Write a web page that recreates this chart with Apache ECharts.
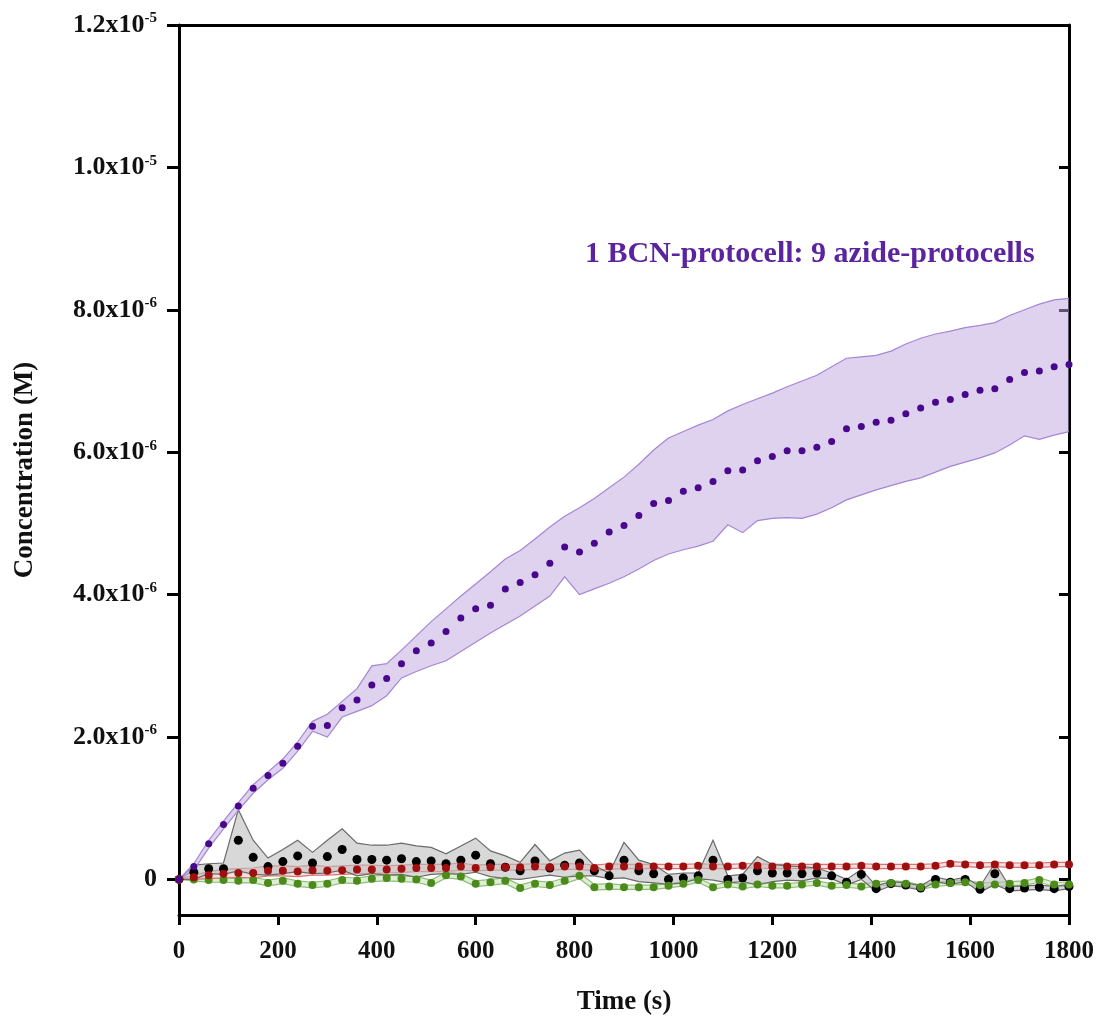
<!DOCTYPE html>
<html>
<head>
<meta charset="utf-8">
<script src="https://cdn.jsdelivr.net/npm/echarts@6/dist/echarts.min.js"></script>
<style>
  html, body { margin: 0; padding: 0; background: #ffffff; }
  #chart { width: 1102px; height: 1019px; }
</style>
</head>
<body>
<div id="chart"></div>
<script>
// Sampling times (s)
const times = [0, 30, 60, 90, 120, 150, 180, 210, 240, 270, 300, 330, 360, 390, 420, 450, 480, 510, 540, 570,
  600, 630, 660, 690, 720, 750, 780, 810, 840, 870, 900, 930, 960, 990, 1020, 1050, 1080, 1110, 1140, 1170,
  1200, 1230, 1260, 1290, 1320, 1350, 1380, 1410, 1440, 1470, 1500, 1530, 1560, 1590, 1620, 1650, 1680, 1710,
  1740, 1770, 1800];

// All concentrations below in units of 1e-6 M
// 1 BCN-protocell : 9 azide-protocells (purple)
const purpleMean = [0, 0.18, 0.50, 0.77, 1.03, 1.28, 1.46, 1.63, 1.87, 2.15,
  2.16, 2.41, 2.52, 2.73, 2.82, 3.03, 3.21, 3.32, 3.48, 3.67,
  3.80, 3.85, 4.08, 4.17, 4.28, 4.44, 4.67, 4.60, 4.72, 4.88,
  4.97, 5.11, 5.28, 5.32, 5.45, 5.50, 5.59, 5.74, 5.75, 5.88,
  5.94, 6.02, 6.02, 6.07, 6.15, 6.33, 6.36, 6.42, 6.45, 6.54,
  6.62, 6.70, 6.74, 6.81, 6.87, 6.89, 7.02, 7.12, 7.14, 7.20, 7.23];
const purpleUpper = [0, 0.22, 0.55, 0.82, 1.08, 1.33, 1.51, 1.69, 1.93, 2.22,
  2.32, 2.50, 2.68, 3.00, 3.03, 3.22, 3.42, 3.62, 3.80, 3.98,
  4.15, 4.32, 4.50, 4.62, 4.78, 4.95, 5.10, 5.22, 5.35, 5.50,
  5.65, 5.83, 6.03, 6.20, 6.29, 6.38, 6.46, 6.58, 6.67, 6.75,
  6.83, 6.92, 7.00, 7.08, 7.20, 7.32, 7.34, 7.36, 7.42, 7.52,
  7.60, 7.66, 7.70, 7.75, 7.78, 7.82, 7.92, 8.00, 8.08, 8.14, 8.16];
const purpleLower = [0, 0.13, 0.44, 0.71, 0.97, 1.21, 1.40, 1.56, 1.80, 2.08,
  2.00, 2.28, 2.36, 2.44, 2.58, 2.83, 2.92, 3.00, 3.07, 3.20,
  3.33, 3.46, 3.58, 3.70, 3.84, 3.98, 4.25, 4.00, 4.08, 4.16,
  4.25, 4.36, 4.48, 4.57, 4.63, 4.68, 4.75, 4.98, 4.87, 5.04,
  5.07, 5.08, 5.07, 5.13, 5.22, 5.33, 5.40, 5.47, 5.53, 5.59,
  5.64, 5.72, 5.80, 5.86, 5.92, 5.99, 6.10, 6.23, 6.18, 6.24, 6.29];

// Black series
const blackMean = [0, 0.10, 0.15, 0.15, 0.55, 0.31, 0.18, 0.25, 0.33, 0.23,
  0.32, 0.42, 0.28, 0.28, 0.27, 0.29, 0.25, 0.26, 0.22, 0.27,
  0.34, 0.22, 0.17, 0.12, 0.26, 0.16, 0.20, 0.23, 0.12, 0.05,
  0.27, 0.12, 0.08, 0.00, 0.02, 0.05, 0.27, 0.00, 0.02, 0.12,
  0.09, 0.09, 0.08, 0.09, 0.05, -0.04, 0.07, -0.13, -0.06, -0.08,
  -0.12, 0.00, -0.04, 0.00, -0.14, 0.08, -0.13, -0.12, -0.11, -0.13, -0.10];
const blackUpper = [0, 0.20, 0.22, 0.23, 0.98, 0.55, 0.30, 0.42, 0.55, 0.38,
  0.55, 0.71, 0.51, 0.48, 0.48, 0.51, 0.47, 0.45, 0.36, 0.47,
  0.58, 0.40, 0.33, 0.24, 0.49, 0.26, 0.37, 0.41, 0.19, 0.09,
  0.52, 0.27, 0.21, 0.07, 0.09, 0.09, 0.55, 0.05, 0.07, 0.32,
  0.21, 0.19, 0.18, 0.16, 0.09, 0.00, 0.14, -0.09, -0.03, -0.05,
  -0.09, 0.03, -0.01, 0.03, -0.10, 0.23, -0.10, -0.09, -0.08, -0.10, -0.07];
const blackLower = [0, 0.00, 0.08, 0.07, 0.12, 0.07, 0.06, 0.08, 0.11, 0.08,
  0.09, 0.13, 0.05, 0.08, 0.06, 0.07, 0.03, 0.07, 0.08, 0.07,
  0.10, 0.04, 0.01, 0.00, 0.03, 0.06, 0.03, 0.05, 0.05, 0.01,
  0.02, -0.03, -0.05, -0.07, -0.05, 0.01, -0.01, -0.05, -0.03, -0.08,
  -0.03, -0.01, -0.02, 0.02, 0.01, -0.08, 0.00, -0.17, -0.09, -0.11,
  -0.15, -0.03, -0.07, -0.03, -0.18, -0.07, -0.16, -0.15, -0.14, -0.16, -0.13];

// Red series
const redMean = [0, 0.03, 0.06, 0.08, 0.09, 0.09, 0.12, 0.12, 0.11, 0.13,
  0.12, 0.13, 0.14, 0.14, 0.14, 0.15, 0.16, 0.16, 0.16, 0.18,
  0.16, 0.17, 0.17, 0.17, 0.18, 0.17, 0.18, 0.18, 0.16, 0.18,
  0.18, 0.18, 0.18, 0.18, 0.18, 0.19, 0.18, 0.18, 0.19, 0.19,
  0.18, 0.18, 0.18, 0.18, 0.18, 0.18, 0.19, 0.18, 0.18, 0.18,
  0.18, 0.19, 0.22, 0.21, 0.20, 0.21, 0.20, 0.20, 0.20, 0.21, 0.21];
const redErr = [0, 0.03, 0.05, 0.06, 0.06, 0.07, 0.07, 0.07, 0.07, 0.07,
  0.06, 0.06, 0.06, 0.06, 0.05, 0.05, 0.05, 0.05, 0.05, 0.05,
  0.04, 0.04, 0.04, 0.04, 0.04, 0.04, 0.04, 0.04, 0.04, 0.04,
  0.03, 0.03, 0.03, 0.03, 0.03, 0.03, 0.03, 0.03, 0.03, 0.03,
  0.03, 0.03, 0.03, 0.03, 0.03, 0.03, 0.03, 0.03, 0.03, 0.03,
  0.03, 0.03, 0.03, 0.03, 0.03, 0.03, 0.03, 0.03, 0.03, 0.03, 0.03];

// Green series
const greenMean = [0, 0.00, -0.01, -0.01, -0.02, -0.01, -0.05, -0.02, -0.06, -0.08,
  -0.06, -0.01, -0.02, 0.01, 0.02, 0.01, 0.00, -0.05, 0.06, 0.04,
  -0.06, -0.04, -0.02, -0.12, -0.06, -0.08, -0.02, 0.05, -0.11, -0.10,
  -0.11, -0.11, -0.11, -0.09, -0.06, -0.01, -0.11, -0.07, -0.10, -0.07,
  -0.09, -0.09, -0.07, -0.05, -0.09, -0.08, -0.10, -0.06, -0.05, -0.06,
  -0.11, -0.07, -0.05, -0.04, -0.08, -0.07, -0.06, -0.05, -0.01, -0.07, -0.07];
const greenErr = [0, 0.02, 0.03, 0.03, 0.03, 0.04, 0.04, 0.04, 0.04, 0.04,
  0.04, 0.04, 0.04, 0.04, 0.04, 0.04, 0.04, 0.04, 0.04, 0.04,
  0.04, 0.04, 0.04, 0.04, 0.04, 0.04, 0.04, 0.04, 0.04, 0.04,
  0.03, 0.03, 0.03, 0.03, 0.03, 0.03, 0.03, 0.03, 0.03, 0.03,
  0.03, 0.03, 0.03, 0.03, 0.03, 0.03, 0.03, 0.03, 0.03, 0.03,
  0.03, 0.03, 0.03, 0.03, 0.03, 0.03, 0.03, 0.03, 0.03, 0.03, 0.03];

// Axis ticks
const xTicks = [0, 200, 400, 600, 800, 1000, 1200, 1400, 1600, 1800];
const yTickValues = [0, 2, 4, 6, 8, 10, 12];
const yTickMantissa = ['0', '2.0x10', '4.0x10', '6.0x10', '8.0x10', '1.0x10', '1.2x10'];
const yTickExponent = ['', '-6', '-6', '-6', '-6', '-5', '-5'];

const annotation = '1 BCN-protocell: 9 azide-protocells';

const SERIF = '"Liberation Serif", "Times New Roman", serif';

function pairs(vals) {
  return times.map((t, i) => [t, vals[i]]);
}

// Shaded band between lower and upper bounds: one filled polygon plus its two edge lines
function band(lower, upper, fill, edge, z) {
  return {
    type: 'custom', coordinateSystem: 'cartesian2d', silent: true, z: z, clip: true,
    data: times.map((t, i) => [t, lower[i], upper[i]]),
    encode: { x: 0, y: [1, 2] },
    renderItem: function (params, api) {
      if (params.dataIndex !== 0) return null;
      const top = times.map((t, i) => api.coord([t, upper[i]]));
      const bot = times.map((t, i) => api.coord([t, lower[i]]));
      return {
        type: 'group',
        children: [
          { type: 'polygon', shape: { points: top.concat(bot.slice().reverse()) },
            style: { fill: fill, stroke: null } },
          { type: 'polyline', shape: { points: top }, style: { stroke: edge, lineWidth: 1.2, fill: null } },
          { type: 'polyline', shape: { points: bot }, style: { stroke: edge, lineWidth: 1.2, fill: null } }
        ]
      };
    }
  };
}

function dots(name, vals, color, size, z) {
  return {
    type: 'scatter', name: name, data: pairs(vals), symbol: 'circle', symbolSize: size,
    itemStyle: { color: color, opacity: 1 }, z: z, silent: true
  };
}

const redLower = redMean.map((v, i) => v - redErr[i]);
const redUpper = redMean.map((v, i) => v + redErr[i]);
const greenLower = greenMean.map((v, i) => v - greenErr[i]);
const greenUpper = greenMean.map((v, i) => v + greenErr[i]);

const series = [
  band(greenLower, greenUpper, 'rgba(200,228,185,0.6)', '#8fbf78', 2),
  band(redLower, redUpper, 'rgba(240,200,200,0.6)', '#d67272', 2),
  band(blackLower, blackUpper, 'rgba(190,190,190,0.6)', '#6a6a6a', 3),
  band(purpleLower, purpleUpper, 'rgba(190,165,222,0.5)', '#a586d4', 4),
  dots('black', blackMean, '#000000', 9, 10),
  dots('green', greenMean, '#4c8a1a', 8, 11),
  dots('red', redMean, '#a00f10', 8, 12),
  dots('purple', purpleMean, '#48078c', 7, 13)
];

const chart = echarts.init(document.getElementById('chart'), null, { renderer: 'canvas' });

chart.setOption({
  backgroundColor: '#ffffff',
  animation: false,
  title: {
    text: annotation,
    left: 580, top: 234,
    textStyle: { fontFamily: SERIF, fontWeight: 'bold', fontSize: 30, color: '#5b249f' }
  },
  grid: { left: 179, right: 33, top: 25, bottom: 104, containLabel: false, outerBoundsMode: 'none' },
  xAxis: [
    {
      type: 'value', min: 0, max: 1800, interval: 200, position: 'bottom',
      name: 'Time (s)', nameLocation: 'middle', nameGap: 74,
      nameTextStyle: { fontFamily: SERIF, fontWeight: 'bold', fontSize: 27, color: '#111' },
      axisLine: { show: true, onZero: false, lineStyle: { color: '#000', width: 3 } },
      axisTick: { show: true, inside: false, length: 10, lineStyle: { color: '#000', width: 3 },
        customValues: xTicks },
      axisLabel: { show: true, margin: 24, fontFamily: SERIF, fontWeight: 'bold', fontSize: 25, color: '#111',
        customValues: xTicks, formatter: function (v) { return String(v); } },
      splitLine: { show: false }
    },
    {
      type: 'value', min: 0, max: 1800, position: 'top',
      axisLine: { show: true, onZero: false, lineStyle: { color: '#000', width: 3 } },
      axisTick: { show: false }, axisLabel: { show: false }, splitLine: { show: false }
    }
  ],
  yAxis: [
    {
      type: 'value', min: -0.5, max: 12, position: 'left',
      name: 'Concentration (M)', nameLocation: 'middle', nameGap: 140, nameRotate: 90,
      nameTextStyle: { fontFamily: SERIF, fontWeight: 'bold', fontSize: 27, color: '#111' },
      axisLine: { show: true, onZero: false, lineStyle: { color: '#000', width: 3 } },
      axisTick: { show: true, inside: false, length: 12, lineStyle: { color: '#000', width: 3 },
        customValues: yTickValues },
      axisLabel: {
        show: true, margin: 22, customValues: yTickValues,
        formatter: function (value) {
          const i = yTickValues.indexOf(Math.round(value));
          if (i < 0) return '';
          if (!yTickExponent[i]) return '{m|' + yTickMantissa[i] + '}';
          return '{m|' + yTickMantissa[i] + '}{e|' + yTickExponent[i] + '}';
        },
        rich: {
          m: { fontFamily: SERIF, fontWeight: 'bold', fontSize: 26, color: '#111', lineHeight: 28 },
          e: { fontFamily: SERIF, fontWeight: 'bold', fontSize: 15, color: '#111', lineHeight: 15, verticalAlign: 'top' }
        }
      },
      splitLine: { show: false }
    },
    {
      type: 'value', min: -0.5, max: 12, position: 'right',
      axisLine: { show: true, onZero: false, lineStyle: { color: '#000', width: 3 } },
      axisTick: { show: true, inside: true, length: 10, lineStyle: { color: '#000', width: 3 },
        customValues: yTickValues },
      axisLabel: { show: false }, splitLine: { show: false }
    }
  ],
  series: series
});
</script>
</body>
</html>
